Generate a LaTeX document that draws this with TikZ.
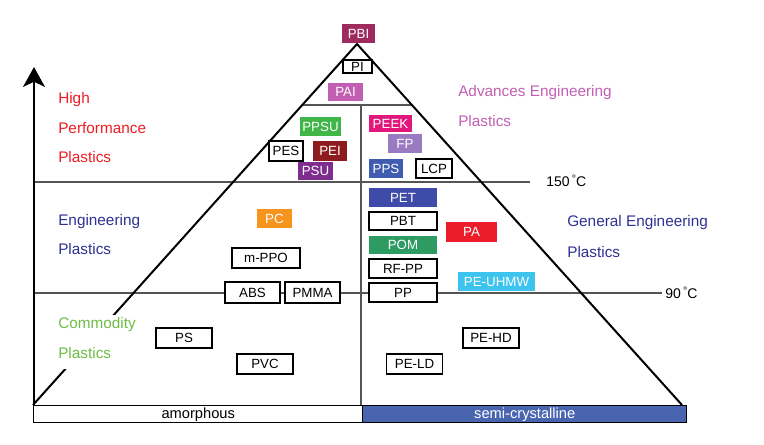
\documentclass[tikz,border=0pt]{standalone}
\usepackage{fontspec}
\setmainfont{Liberation Sans}
\usetikzlibrary{arrows.meta}
\definecolor{cPBI}{HTML}{9E2A5E}
\definecolor{cPAI}{HTML}{C25FB3}
\definecolor{cPPSU}{HTML}{40B649}
\definecolor{cPEEK}{HTML}{E2177B}
\definecolor{cFP}{HTML}{9A7BC1}
\definecolor{cPEI}{HTML}{8E1B1E}
\definecolor{cPSU}{HTML}{7E2D8E}
\definecolor{cPPS}{HTML}{3F5CB0}
\definecolor{cPET}{HTML}{3F4BA8}
\definecolor{cPOM}{HTML}{2E9B63}
\definecolor{cPA}{HTML}{EC1C2A}
\definecolor{cUHMW}{HTML}{3CC4EF}
\definecolor{cPC}{HTML}{F7941D}
\definecolor{cSemi}{HTML}{4A65B0}
\definecolor{cHigh}{HTML}{EC1C24}
\definecolor{cNavy}{HTML}{2E3192}
\definecolor{cComm}{HTML}{6DBE45}
\definecolor{cLine}{HTML}{555555}
\begin{document}
\begin{tikzpicture}[x=0.75pt,y=-0.75pt,
  bw/.style={minimum width=#1*0.75pt},
  bh/.style={minimum height=#1*0.75pt},
  wbox/.style={draw=black,line width=1pt,fill=white,inner sep=0pt,minimum height=19*0.75pt,font=\fontsize{10}{12}\selectfont},
  cbox/.style={fill=#1,text=white,inner sep=0pt,minimum height=19*0.75pt,font=\fontsize{10}{12}\selectfont},
  catlabel/.style={anchor=west,inner sep=0pt,font=\fontsize{11.5}{14}\selectfont,text=#1},
  thin line/.style={draw=cLine,line width=0.8pt},
  edge/.style={draw=black,line width=1.5pt},
  temp/.style={anchor=west,inner sep=0pt,font=\fontsize{10.5}{12}\selectfont}]
\useasboundingbox (0,0) rectangle (764,445);

% coordinates
\coordinate (apex) at (357,44);
\coordinate (bl) at (33,405);
\coordinate (br) at (682,405);
\coordinate (t1) at (302.3,105);
\coordinate (t2) at (411.7,105);
\coordinate (c1) at (361,105);
\coordinate (c2) at (361,405);
\coordinate (h150a) at (34,182);
\coordinate (h150b) at (530,182);
\coordinate (h90a) at (34,293);
\coordinate (h90b) at (662,293);
\coordinate (axb) at (34,405);
\coordinate (axt) at (34,67);

% thin lines
\draw[thin line] (t1) -- (t2);
\draw[thin line] (c1) -- (c2);
\draw[thin line] (h150a) -- (h150b);
\draw[thin line] (h90a) -- (h90b);

% triangle
\draw[edge] (bl) -- (apex) -- (br);

% temperature labels
\node[temp] (t150) at (546,181) {150\,\raisebox{0.45ex}{\fontsize{8}{9}\selectfont °}C};
\node[temp] (t90) at (665,293) {90\,\raisebox{0.45ex}{\fontsize{8}{9}\selectfont °}C};

% category labels
\node[catlabel=cHigh] (high1) at (58,100) {High};
\node[catlabel=cHigh] (high2) at (58,128) {Performance};
\node[catlabel=cHigh] (high3) at (58,157) {Plastics};
\node[catlabel=cNavy] (eng1) at (58,222) {Engineering};
\node[catlabel=cNavy] (eng2) at (58,249) {Plastics};
\node[fill=white,inner sep=0pt,minimum width=82*0.75pt,minimum height=54*0.75pt,anchor=north west] (commbg) at (57,315) {};
\node[catlabel=cComm] (comm1) at (58,325) {Commodity};
\node[catlabel=cComm] (comm2) at (58,353) {Plastics};
\node[catlabel=cPAI] (adv1) at (458,93) {Advances Engineering};
\node[catlabel=cPAI] (adv2) at (458,121) {Plastics};
\node[catlabel=cNavy] (gen1) at (567,223) {General Engineering};
\node[catlabel=cNavy] (gen2) at (567,252) {Plastics};

% boxes
\node[cbox=cPBI,bw=33] (PBI) at (358.5,33.5) {PBI};
\node[wbox,bw=29,bh=13] (PI) at (357.5,66.5) {PI};
\node[cbox=cPAI,bw=35,bh=18] (PAI) at (345.5,92) {PAI};
\node[cbox=cPPSU,bw=41] (PPSU) at (320.5,126.5) {PPSU};
\node[cbox=cPEEK,bw=43,bh=17] (PEEK) at (390.5,123.5) {PEEK};
\node[cbox=cFP,bw=34] (FP) at (405,143.5) {FP};
\node[wbox,bw=34,bh=20] (PES) at (286,151) {PES};
\node[cbox=cPEI,bw=34,bh=20] (PEI) at (330,151) {PEI};
\node[cbox=cPSU,bw=35,bh=18] (PSU) at (315.5,171) {PSU};
\node[cbox=cPPS,bw=34] (PPS) at (386,168.5) {PPS};
\node[wbox,bw=36] (LCP) at (434,168.5) {LCP};
\node[cbox=cPET,bw=68] (PET) at (403,197.5) {PET};
\node[wbox,bw=68,bh=18] (PBT) at (403,221) {PBT};
\node[cbox=cPOM,bw=68,bh=18] (POM) at (403,245) {POM};
\node[wbox,bw=68] (RFPP) at (403,268.5) {RF-PP};
\node[wbox,bw=68] (PP) at (403,292.5) {PP};
\node[cbox=cPA,bw=51,bh=20] (PA) at (471.5,232) {PA};
\node[cbox=cUHMW,bw=77] (UHMW) at (496.5,281.5) {PE-UHMW};
\node[cbox=cPC,bw=35] (PC) at (274.5,218.5) {PC};
\node[wbox,bw=68,bh=20] (PPO) at (266,258) {m-PPO};
\node[wbox,bw=55,bh=21] (ABS) at (252.5,292.5) {ABS};
\node[wbox,bw=55,bh=21] (PMMA) at (312.5,292.5) {PMMA};
\node[wbox,bw=56,bh=20] (PS) at (184,338) {PS};
\node[wbox,bw=56,bh=20] (PVC) at (265,364) {PVC};
\node[wbox,bw=56,bh=20] (PEHD) at (491,338) {PE-HD};
\node[wbox,bw=56,bh=20] (PELD) at (414.5,364) {PE-LD};

% bottom bars
\node[draw=black,line width=1.1pt,fill=white,inner sep=0pt,anchor=north west,minimum width=329*0.75pt,minimum height=17*0.75pt,font=\fontsize{11}{13}\selectfont] (amor) at (33,405) {amorphous};
\node[draw=black,line width=1.1pt,fill=cSemi,text=white,inner sep=0pt,anchor=north west,minimum width=324*0.75pt,minimum height=17*0.75pt,font=\fontsize{11}{13}\selectfont] (semi) at (362,405) {semi-crystalline};

% axis
\draw[line width=1.5pt,-{Stealth[length=15pt,width=16.5pt,inset=4pt]}] (axb) -- (axt);
\end{tikzpicture}
\end{document}
